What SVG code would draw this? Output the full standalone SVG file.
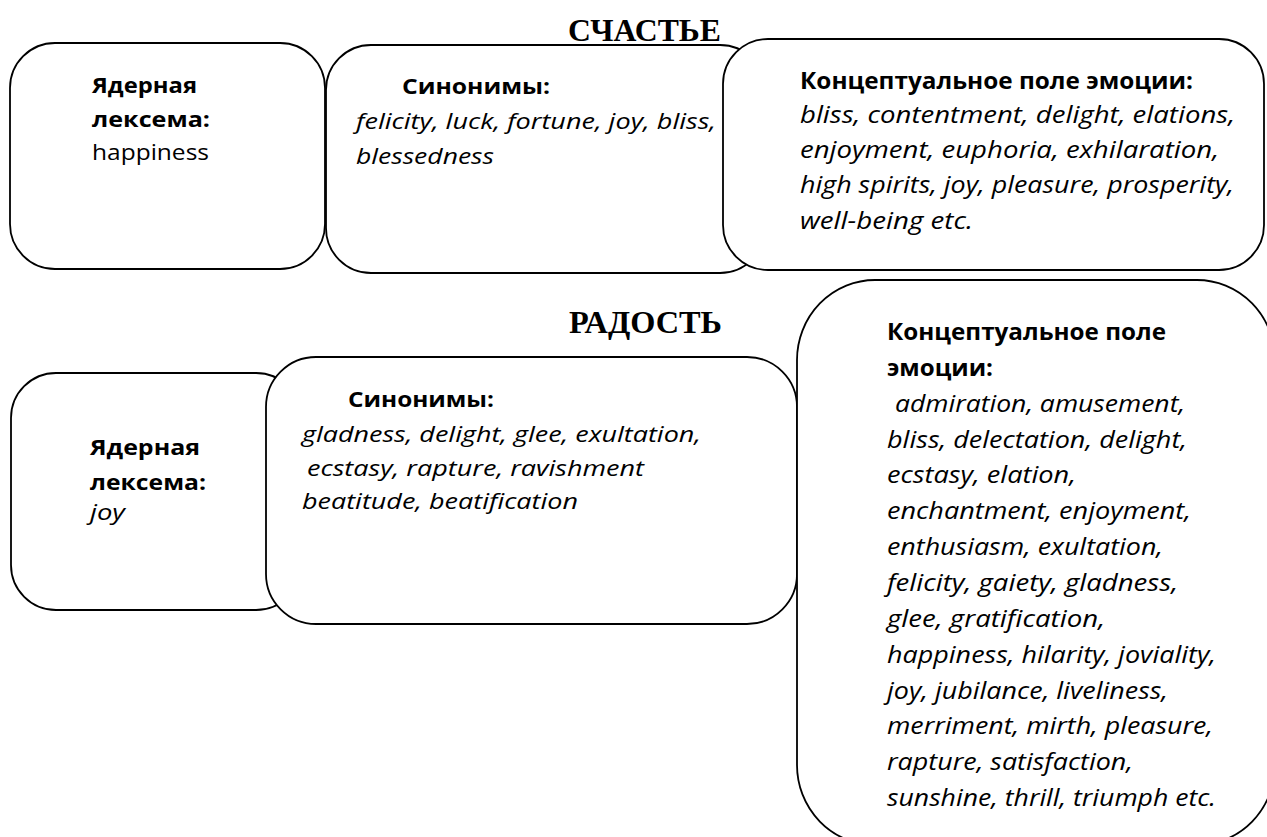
<svg xmlns="http://www.w3.org/2000/svg" width="1267" height="837" viewBox="0 0 1267 837">
<style>
.box{fill:#fff;stroke:#000;stroke-width:1.8}
.title{font-family:"Liberation Serif","Times New Roman",serif;font-weight:bold;font-size:31px;fill:#000}
.s{font-family:"Open Sans","Noto Sans",sans-serif;font-size:21px;fill:#000}
.l{font-family:"Open Sans","Noto Sans",sans-serif;font-size:23px;fill:#000}
.b{font-weight:bold}
.i{font-style:italic}
</style>
<rect width="1267" height="837" fill="#fff"/>
<text class="title" x="568" y="41" textLength="153" lengthAdjust="spacingAndGlyphs">СЧАСТЬЕ</text>
<text class="title" x="569" y="333" textLength="153" lengthAdjust="spacingAndGlyphs">РАДОСТЬ</text>
<g id="n1">
<rect class="box" x="10" y="43" width="315" height="226" rx="45" ry="45"/>
<text class="s b" x="92" y="93" textLength="105" lengthAdjust="spacingAndGlyphs">Ядерная</text>
<text class="s b" x="92" y="127" textLength="118" lengthAdjust="spacingAndGlyphs">лексема:</text>
<text class="s" x="92" y="160" textLength="117" lengthAdjust="spacingAndGlyphs">happiness</text>
</g>
<g id="n2">
<rect class="box" x="326" y="45" width="439" height="228" rx="45" ry="45"/>
<text class="s b" x="402" y="94" textLength="148" lengthAdjust="spacingAndGlyphs">Синонимы:</text>
<text class="s i" x="356" y="129" textLength="360" lengthAdjust="spacingAndGlyphs">felicity, luck, fortune, joy, bliss,</text>
<text class="s i" x="356" y="164" textLength="138" lengthAdjust="spacingAndGlyphs">blessedness</text>
</g>
<g id="n3">
<rect class="box" x="723" y="39" width="541" height="231" rx="45" ry="45"/>
<text class="l b" x="800" y="89" textLength="393" lengthAdjust="spacingAndGlyphs">Концептуальное поле эмоции:</text>
<text class="l i" x="800" y="123" textLength="435" lengthAdjust="spacingAndGlyphs">bliss, contentment, delight, elations,</text>
<text class="l i" x="800" y="158" textLength="419" lengthAdjust="spacingAndGlyphs">enjoyment, euphoria, exhilaration,</text>
<text class="l i" x="800" y="193" textLength="434" lengthAdjust="spacingAndGlyphs">high spirits, joy, pleasure, prosperity,</text>
<text class="l i" x="800" y="229" textLength="173" lengthAdjust="spacingAndGlyphs">well-being etc.</text>
</g>
<g id="n4">
<rect class="box" x="11" y="373" width="290" height="237" rx="45" ry="45"/>
<text class="s b" x="90" y="455" textLength="110" lengthAdjust="spacingAndGlyphs">Ядерная</text>
<text class="s b" x="90" y="490" textLength="116" lengthAdjust="spacingAndGlyphs">лексема:</text>
<text class="s i" x="90" y="520" textLength="35" lengthAdjust="spacingAndGlyphs">joy</text>
</g>
<g id="n5">
<rect class="box" x="266" y="357" width="531" height="267" rx="50" ry="50"/>
<text class="s b" x="348" y="407" textLength="146" lengthAdjust="spacingAndGlyphs">Синонимы:</text>
<text class="s i" x="302" y="442" textLength="399" lengthAdjust="spacingAndGlyphs">gladness, delight, glee, exultation,</text>
<text class="s i" x="307" y="476" textLength="337" lengthAdjust="spacingAndGlyphs">ecstasy, rapture, ravishment</text>
<text class="s i" x="302" y="509" textLength="276" lengthAdjust="spacingAndGlyphs">beatitude, beatification</text>
</g>
<g id="n6">
<rect class="box" x="797" y="280" width="478" height="565" rx="78" ry="80"/>
<text class="l b" x="887" y="340" textLength="279" lengthAdjust="spacingAndGlyphs">Концептуальное поле</text>
<text class="l b" x="887" y="376" textLength="106" lengthAdjust="spacingAndGlyphs">эмоции:</text>
<text class="l i" x="895" y="412" textLength="290" lengthAdjust="spacingAndGlyphs">admiration, amusement,</text>
<text class="l i" x="887" y="448" textLength="300" lengthAdjust="spacingAndGlyphs">bliss, delectation, delight,</text>
<text class="l i" x="887" y="483" textLength="189" lengthAdjust="spacingAndGlyphs">ecstasy, elation,</text>
<text class="l i" x="887" y="519" textLength="304" lengthAdjust="spacingAndGlyphs">enchantment, enjoyment,</text>
<text class="l i" x="887" y="555" textLength="276" lengthAdjust="spacingAndGlyphs">enthusiasm, exultation,</text>
<text class="l i" x="887" y="591" textLength="291" lengthAdjust="spacingAndGlyphs">felicity, gaiety, gladness,</text>
<text class="l i" x="887" y="627" textLength="218" lengthAdjust="spacingAndGlyphs">glee, gratification,</text>
<text class="l i" x="887" y="663" textLength="329" lengthAdjust="spacingAndGlyphs">happiness, hilarity, joviality,</text>
<text class="l i" x="887" y="699" textLength="281" lengthAdjust="spacingAndGlyphs">joy, jubilance, liveliness,</text>
<text class="l i" x="887" y="734" textLength="326" lengthAdjust="spacingAndGlyphs">merriment, mirth, pleasure,</text>
<text class="l i" x="887" y="770" textLength="246" lengthAdjust="spacingAndGlyphs">rapture, satisfaction,</text>
<text class="l i" x="887" y="806" textLength="329" lengthAdjust="spacingAndGlyphs">sunshine, thrill, triumph etc.</text>
</g>
<g id="connectors"/>
</svg>
